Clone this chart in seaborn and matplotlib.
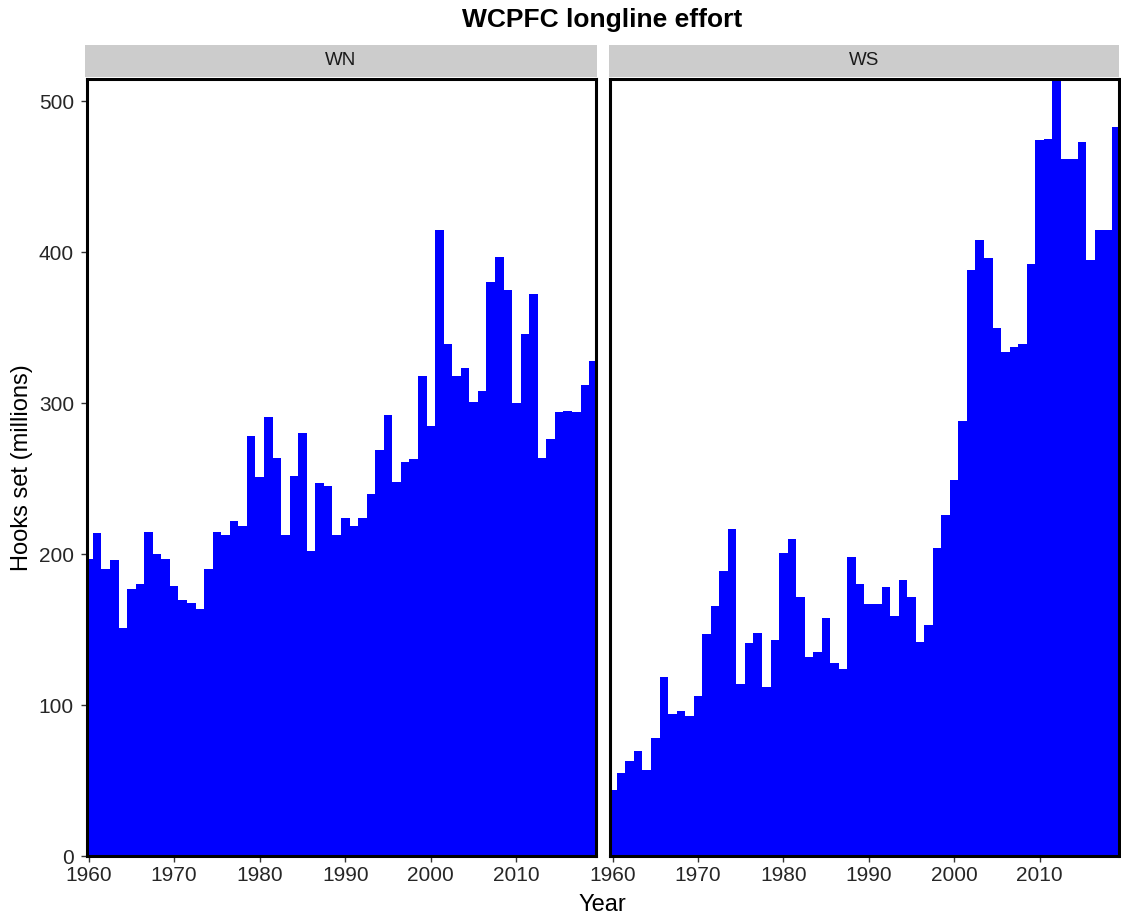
import matplotlib
matplotlib.use("Agg")
import matplotlib.pyplot as plt
import seaborn as sns
import pandas as pd

years = list(range(1960, 2020))

wn_hooks = [197, 214, 190, 196, 151, 177, 180, 215, 200, 197,
            179, 170, 168, 164, 190, 215, 213, 222, 219, 278,
            251, 291, 264, 213, 252, 280, 202, 247, 245, 213,
            224, 219, 224, 240, 269, 292, 248, 261, 263, 318,
            285, 415, 339, 318, 323, 301, 308, 380, 397, 375,
            300, 346, 372, 264, 276, 294, 295, 294, 312, 328]

ws_hooks = [44, 55, 63, 70, 57, 78, 119, 94, 96, 93,
            106, 147, 166, 189, 217, 114, 141, 148, 112, 143,
            201, 210, 172, 132, 135, 158, 128, 124, 198, 180,
            167, 167, 178, 159, 183, 172, 142, 153, 204, 226,
            249, 288, 388, 408, 396, 350, 334, 337, 339, 392,
            474, 475, 515, 462, 462, 473, 395, 415, 415, 483]

regions = ["WN", "WS"]
x_ticks = [1960, 1970, 1980, 1990, 2000, 2010]
y_ticks = [0, 100, 200, 300, 400, 500]

title = "WCPFC longline effort"
x_label = "Year"
y_label = "Hooks set (millions)"

df = pd.DataFrame({
    "year": years * 2,
    "hooks": wn_hooks + ws_hooks,
    "region": ["WN"] * len(years) + ["WS"] * len(years),
})

sns.set_style("white")
plt.rcParams["font.family"] = ["Liberation Sans", "DejaVu Sans"]

W, H = 1121, 923
fig = plt.figure(figsize=(W / 100, H / 100), dpi=100)
fig.patch.set_facecolor("white")

panel_bottom_px = 856.3
panel_top_px = 78.5
panels_px = [(86.5, 595.5), (610.4, 1118.5)]
strip_top_px, strip_bot_px = 45, 76.5

ymax = max(df["hooks"])

for i, (reg, (l, r)) in enumerate(zip(regions, panels_px)):
    ax = fig.add_axes([l / W, (H - panel_bottom_px) / H,
                       (r - l) / W, (panel_bottom_px - panel_top_px) / H])
    sub = df[df["region"] == reg]
    sns.histplot(data=sub, x="year", weights="hooks", discrete=True,
                 color="#0000FF", alpha=1, linewidth=0, edgecolor="none",
                 ax=ax)
    ax.set_xlim(1959.75, 2019.25)
    ax.set_ylim(0, ymax)
    ax.set_xticks(x_ticks)
    ax.set_yticks(y_ticks)
    ax.set_xlabel("")
    ax.set_ylabel("")
    ax.set_facecolor("white")
    ax.grid(False)
    for s in ax.spines.values():
        s.set_visible(True)
        s.set_color("black")
        s.set_linewidth(2.2)
    ax.tick_params(axis="x", which="both", bottom=True, length=4, width=1,
                   color="#333333", labelsize=15, labelcolor="#262626", pad=3)
    if i == 0:
        ax.tick_params(axis="y", which="both", left=True, length=4, width=1,
                       color="#333333", labelsize=15, labelcolor="#262626", pad=5)
    else:
        ax.tick_params(axis="y", left=False, labelleft=False)

    sax = fig.add_axes([(l - 1.5) / W, (H - strip_bot_px) / H,
                        (r - l + 2.5) / W, (strip_bot_px - strip_top_px) / H])
    sax.set_facecolor("#CCCCCC")
    sax.set_xticks([])
    sax.set_yticks([])
    for s in sax.spines.values():
        s.set_visible(False)
    sax.text(0.5, 0.5, reg, ha="center", va="center", fontsize=13.5,
             color="#1A1A1A", transform=sax.transAxes)

cx = (panels_px[0][0] + panels_px[1][1]) / 2 / W
fig.text(cx, (H - 20) / H, title, ha="center", va="center",
         fontsize=19, fontweight="bold", color="black")
fig.text(cx, (H - 905) / H, x_label, ha="center", va="center",
         fontsize=17, color="black")
fig.text(22 / W, (H - (panel_top_px + panel_bottom_px) / 2) / H, y_label,
         ha="center", va="center", rotation=90, fontsize=17, color="black")

fig.savefig("out.png", dpi=100, facecolor="white")
